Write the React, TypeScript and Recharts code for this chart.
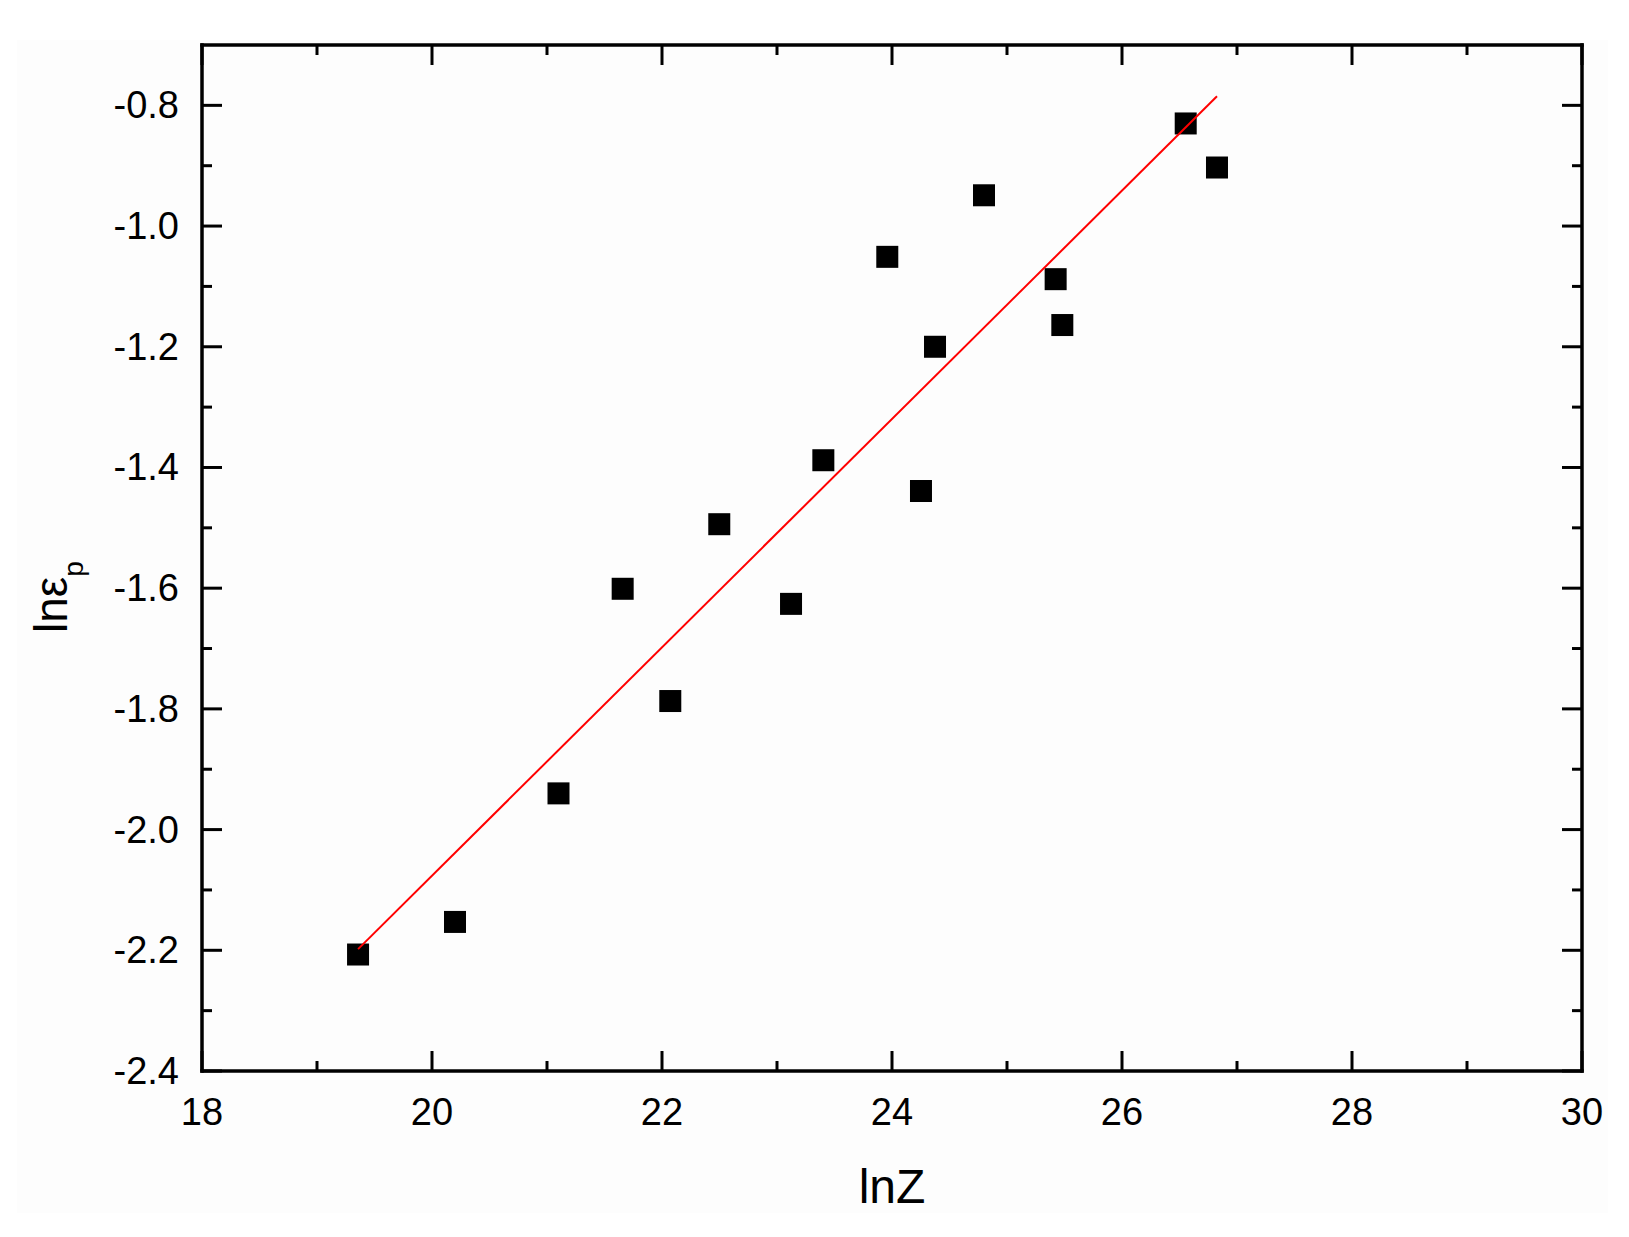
import React from "react";
import { ScatterChart, Scatter, XAxis, YAxis, Label } from "recharts";

// ln Z (x) and ln eps_p (y)
const lnZ = [19.357, 20.2, 21.1, 21.658, 22.072, 22.498, 23.122, 23.403, 23.959, 24.252, 24.374, 24.8, 25.423, 25.481, 26.554, 26.826];
const lnEp = [-2.207, -2.153, -1.94, -1.601, -1.787, -1.494, -1.626, -1.388, -1.051, -1.439, -1.2, -0.949, -1.088, -1.164, -0.83, -0.903];

// linear fit end points
const fitX = [19.357, 26.826];
const fitY = [-2.198, -0.785];

const xTicks = [18, 19, 20, 21, 22, 23, 24, 25, 26, 27, 28, 29, 30];
const yTicks = [-2.4, -2.3, -2.2, -2.1, -2.0, -1.9, -1.8, -1.7, -1.6, -1.5, -1.4, -1.3, -1.2, -1.1, -1.0, -0.9, -0.8];

const points = lnZ.map((x, i) => ({ x, y: lnEp[i] }));
const fit = fitX.map((x, i) => ({ x, y: fitY[i] }));

const FONT = "'Liberation Sans', Arial, sans-serif";
const MAJOR = 20;
const MINOR = 10;
const TICK_W = 3;

const isMajorX = (v: number) => Math.abs(v / 2 - Math.round(v / 2)) < 1e-6;
const isMajorY = (v: number) => Math.abs(v * 5 - Math.round(v * 5)) < 1e-6;

function BottomTick(props: any) {
  const { x, y, payload } = props;
  const major = isMajorX(payload.value);
  return (
    <g>
      <line x1={x} x2={x} y1={y} y2={y - (major ? MAJOR : MINOR)} stroke="#000" strokeWidth={TICK_W} />
      {major && (
        <text x={x} y={y + 54} textAnchor="middle" fontFamily={FONT} fontSize={38} fill="#000">
          {payload.value}
        </text>
      )}
    </g>
  );
}

function TopTick(props: any) {
  const { x, y, payload } = props;
  const major = isMajorX(payload.value);
  return <line x1={x} x2={x} y1={y} y2={y + (major ? MAJOR : MINOR)} stroke="#000" strokeWidth={TICK_W} />;
}

function LeftTick(props: any) {
  const { x, y, payload } = props;
  const major = isMajorY(payload.value);
  return (
    <g>
      <line x1={x} x2={x + (major ? MAJOR : MINOR)} y1={y} y2={y} stroke="#000" strokeWidth={TICK_W} />
      {major && (
        <text x={x - 23} y={y + 13} textAnchor="end" fontFamily={FONT} fontSize={38} fill="#000">
          {payload.value.toFixed(1)}
        </text>
      )}
    </g>
  );
}

function RightTick(props: any) {
  const { x, y, payload } = props;
  const major = isMajorY(payload.value);
  return <line x1={x} x2={x - (major ? MAJOR : MINOR)} y1={y} y2={y} stroke="#000" strokeWidth={TICK_W} />;
}

function XTitle(props: any) {
  const vb = props.viewBox;
  return (
    <text x={vb.x + vb.width / 2} y={vb.y + 132} textAnchor="middle" fontFamily={FONT} fontSize={48} fill="#000">
      lnZ
    </text>
  );
}

function YTitle(props: any) {
  const vb = props.viewBox;
  const cx = vb.x + 15;
  const cy = vb.y + vb.height / 2 + 39;
  return (
    <text x={cx} y={cy} transform={`rotate(-90, ${cx}, ${cy})`} textAnchor="middle" fontFamily={FONT} fontSize={46} fill="#000">
      <tspan>lnε</tspan>
      <tspan dy={16} fontSize={28}>p</tspan>
    </text>
  );
}

const axisLine = { stroke: "#000", strokeWidth: 3.5, strokeLinecap: "square" as const };

export default function App() {
  return (
    <div style={{ position: "absolute", left: 0, top: 0, width: 1629, height: 1237, background: "#fff" }}>
      <div style={{ position: "absolute", left: 17, top: 40, width: 1591, height: 1173, background: "#fdfdfd" }} />
      <div style={{ position: "absolute", left: 0, top: 0 }}>
        <ScatterChart width={1629} height={1237} margin={{ top: 44, right: 46, bottom: 66, left: 52 }}>
          <XAxis
            type="number"
            dataKey="x"
            domain={[18, 30]}
            ticks={xTicks}
            interval={0}
            allowDataOverflow
            height={100}
            tickSize={0}
            tickMargin={0}
            tickLine={false}
            axisLine={axisLine}
            tick={<BottomTick />}
          >
            <Label content={<XTitle />} />
          </XAxis>
          <XAxis
            xAxisId="top"
            orientation="top"
            type="number"
            dataKey="x"
            domain={[18, 30]}
            ticks={xTicks}
            interval={0}
            allowDataOverflow
            height={1}
            tickSize={0}
            tickMargin={0}
            tickLine={false}
            axisLine={axisLine}
            tick={<TopTick />}
          />
          <YAxis
            type="number"
            dataKey="y"
            domain={[-2.4, -0.7]}
            ticks={yTicks}
            interval={0}
            allowDataOverflow
            width={150}
            tickSize={0}
            tickMargin={0}
            tickLine={false}
            axisLine={axisLine}
            tick={<LeftTick />}
          >
            <Label content={<YTitle />} />
          </YAxis>
          <YAxis
            yAxisId="right"
            orientation="right"
            type="number"
            dataKey="y"
            domain={[-2.4, -0.7]}
            ticks={yTicks}
            interval={0}
            allowDataOverflow
            width={1}
            tickSize={0}
            tickMargin={0}
            tickLine={false}
            axisLine={axisLine}
            tick={<RightTick />}
          />
          <Scatter
            data={points}
            isAnimationActive={false}
            shape={(p: any) => <rect x={p.cx - 11} y={p.cy - 11} width={22} height={22} fill="#000" />}
          />
          <Scatter
            data={fit}
            xAxisId="top"
            yAxisId="right"
            isAnimationActive={false}
            line={{ stroke: "#ff0000", strokeWidth: 2 }}
            shape={() => <g />}
          />
        </ScatterChart>
      </div>
    </div>
  );
}
